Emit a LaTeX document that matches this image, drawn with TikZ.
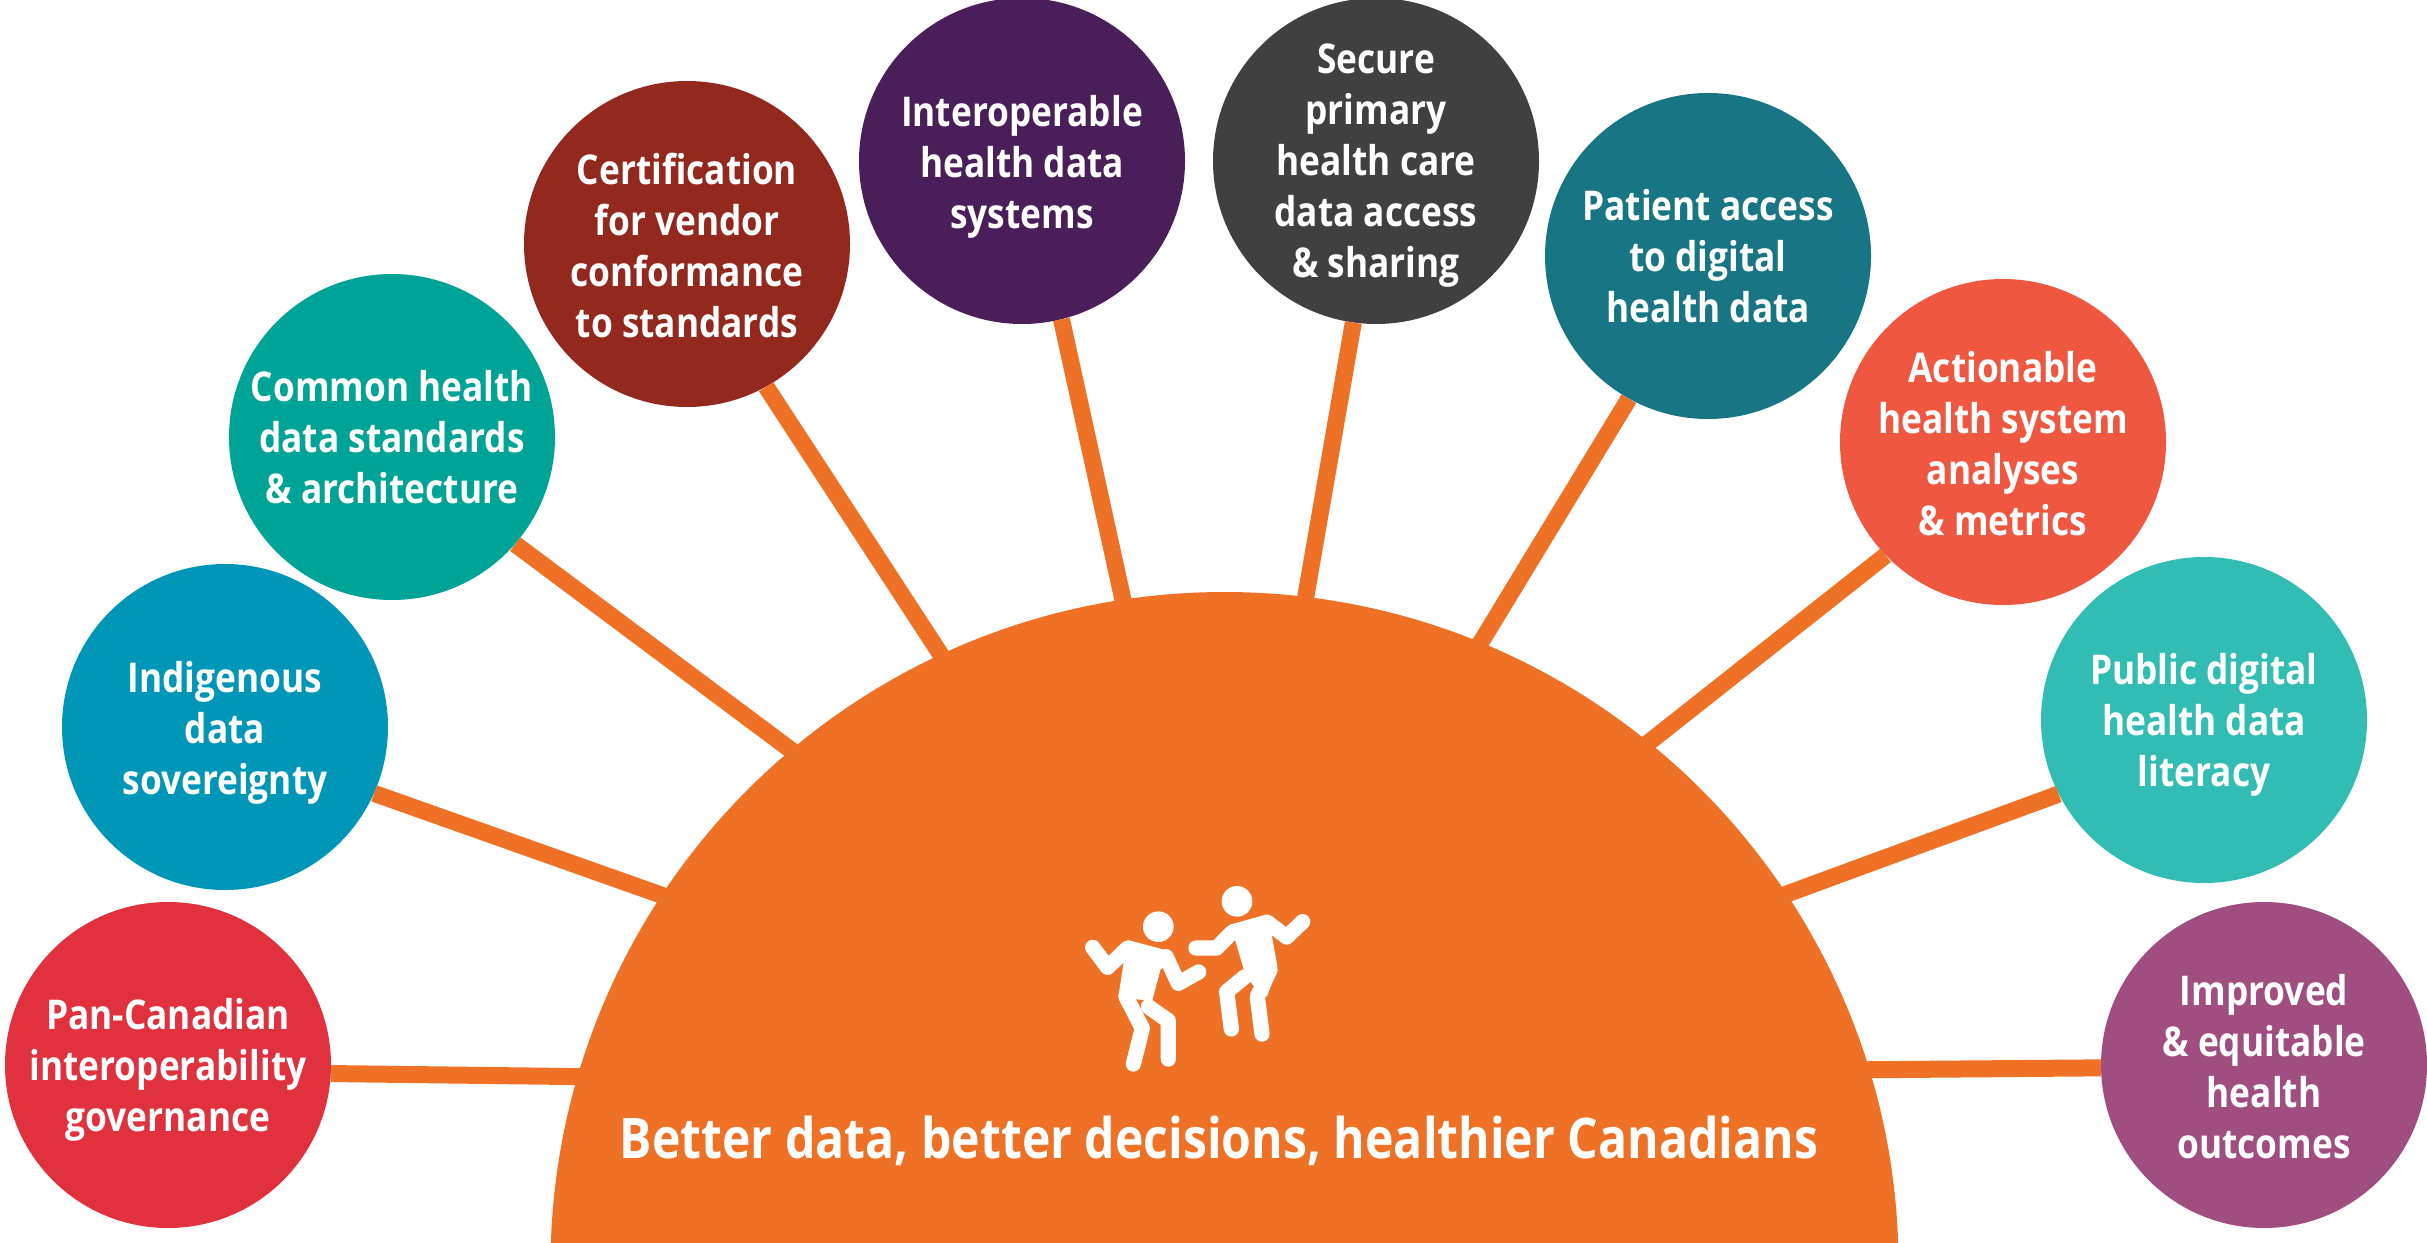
\documentclass[tikz,border=0pt]{standalone}
\usepackage{fontspec}
\setmainfont{Open Sans}[FakeStretch=0.86]
\definecolor{hubc}{HTML}{EF7125}
\definecolor{c1c}{HTML}{E1303E}
\definecolor{c2c}{HTML}{0096B8}
\definecolor{c3c}{HTML}{00A497}
\definecolor{c4c}{HTML}{93291E}
\definecolor{c5c}{HTML}{4A1E58}
\definecolor{c6c}{HTML}{404040}
\definecolor{c7c}{HTML}{177584}
\definecolor{c8c}{HTML}{EF5741}
\definecolor{c9c}{HTML}{32BDB4}
\definecolor{c10c}{HTML}{A04E80}
\tikzset{
  topic/.style={circle,minimum size=326pt,inner sep=0pt},
  topictext/.style={inner sep=0pt,text=white,align=center,
    font=\fontsize{41}{51}\selectfont\bfseries},
  spoke/.style={draw=hubc,line width=17pt},
  person/.style={draw=white,line width=15.3pt,line cap=round,line join=round},
  bodyfill/.style={fill=white,draw=white,line width=3pt,line join=round}
}
\begin{document}
\begin{tikzpicture}[x=1pt,y=-1pt]
\useasboundingbox (0,0) rectangle (2427,1242);
\clip (0,0) rectangle (2427,1242);
\node[topic,fill=c1c,label={[topictext,yshift=-5pt]center:{Pan-Canadian\\interoperability\\governance}}] (c1) at (168,1065) {};
\node[topic,fill=c2c,label={[topictext,yshift=-6pt]center:{Indigenous\\data\\sovereignty}}] (c2) at (225,727) {};
\node[topic,fill=c3c,label={[topictext]center:{Common health\\data standards\\\& architecture}}] (c3) at (392,437) {};
\node[topic,fill=c4c,label={[topictext,yshift=-2pt]center:{Certification\\for vendor\\conformance\\to standards}}] (c4) at (687,244) {};
\node[topic,fill=c5c,label={[topictext,yshift=-6pt]center:{Interoperable\\health data\\systems}}] (c5) at (1022,161) {};
\node[topic,fill=c6c,label={[topictext,yshift=-5pt]center:{Secure\\primary\\health care\\data access\\\& sharing}}] (c6) at (1376,161) {};
\node[topic,fill=c7c,label={[topictext]center:{Patient access\\to digital\\health data}}] (c7) at (1708,256) {};
\node[topic,fill=c8c,label={[topictext,yshift=-2pt]center:{Actionable\\health system\\analyses\\\& metrics}}] (c8) at (2003,442) {};
\node[topic,fill=c9c,label={[topictext,yshift=-5pt]center:{Public digital\\health data\\literacy}}] (c9) at (2204,720) {};
\node[topic,fill=c10c,label={[topictext,yshift=-2pt]center:{Improved\\\& equitable\\health\\outcomes}}] (c10) at (2264,1065) {};
\coordinate (h1) at (611,1077);
\coordinate (h2) at (695,907);
\coordinate (h3) at (819,771);
\coordinate (h4) at (958,681);
\coordinate (h5) at (1130,632);
\coordinate (h6) at (1300,630);
\coordinate (h7) at (1464,670);
\coordinate (h8) at (1619,766);
\coordinate (h9) at (1754,906);
\coordinate (h10) at (1836,1070);
\draw[spoke] (c1.-3.2) -- (h1);
\draw[spoke] (c2.-24) -- (h2);
\draw[spoke] (c3.-41) -- (h3);
\draw[spoke] (c4.-61) -- (h4);
\draw[spoke] (c5.-76) -- (h5);
\draw[spoke] (c6.-98) -- (h6);
\draw[spoke] (c7.-119) -- (h7);
\draw[spoke] (c8.-136) -- (h8);
\draw[spoke] (c9.-153) -- (h9);
\draw[spoke] (c10.181) -- (h10);
\node[circle,fill=hubc,minimum size=1348pt,inner sep=0pt] (hub) at (1224.5,1266) {};
\node[text=white,font=\fontsize{56}{66}\selectfont\bfseries] (title) at (1219,1141) {Better data, better decisions, healthier Canadians};
\begin{scope}[shift={(1040,860)},x=0.3333pt,y=-0.3333pt]
  \fill[white] (355,200) circle (46);
  \filldraw[bodyfill] (265,245) -- (378,275) -- (392,305) -- (358,325) -- (333,418) -- (240,408) -- cycle;
  \draw[person] (158,262) -- (203,322) -- (262,265);
  \draw[person] (378,290) -- (415,370) -- (476,336);
  \draw[person] (258,410) -- (307,505) -- (280,612);
  \draw[person] (325,440) -- (385,482) -- (385,597);
  \fill[white] (591,124) circle (46);
  \filldraw[bodyfill] (572,198) -- (680,168) -- (708,320) -- (678,405) -- (640,370) -- (618,335) -- (590,240) -- cycle;
  \draw[person] (468,264) -- (530,264) -- (575,218);
  \draw[person] (682,187) -- (740,231) -- (788,185);
  \draw[person] (615,350) -- (560,395) -- (574,507);
  \draw[person] (690,330) -- (652,410) -- (666,522);
\end{scope}
\end{tikzpicture}
\end{document}
